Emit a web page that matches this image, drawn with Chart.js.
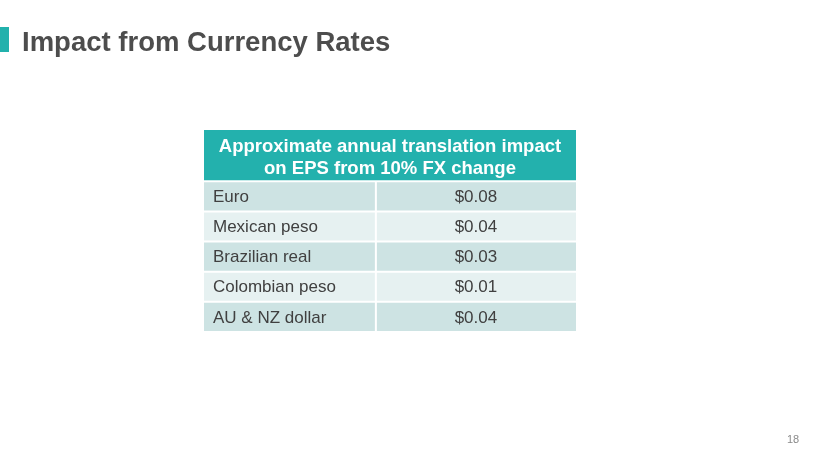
<!DOCTYPE html>
<html>
<head>
<meta charset="utf-8">
<script src="https://cdn.jsdelivr.net/npm/chart.js@4.4.1/dist/chart.umd.min.js"></script>
<style>
  body { margin: 0; background: #fff; font-family: "Liberation Sans", Arial, sans-serif; }
  #wrap { position: relative; width: 830px; height: 467px; overflow: hidden; }
  #wrap canvas { position: absolute; left: 0; top: 0; }
  .accent { position: absolute; left: 0; top: 27px; width: 9px; height: 25px; background: #22b1ac; }
  h1 { position: absolute; left: 22px; top: 27.5px; margin: 0; font-size: 27.5px; line-height: 28px;
       font-weight: bold; color: #4d4d4d; white-space: nowrap; }
  .page { position: absolute; left: 787px; top: 433.5px; font-size: 11px; line-height: 11px; color: #8a8a8a; }
</style>
</head>
<body>
<div id="wrap">
  <canvas id="fxTable" width="830" height="467"></canvas>
  <div class="accent"></div>
  <h1>Impact from Currency Rates</h1>
  <div class="page">18</div>
</div>
<script>
// table content
const headerLines = ['Approximate annual translation impact', 'on EPS from 10% FX change'];
const currencies = ['Euro', 'Mexican peso', 'Brazilian real', 'Colombian peso', 'AU & NZ dollar'];
const epsImpact = [0.08, 0.04, 0.03, 0.01, 0.04];

// layout in scale units: header is 1.7 rows tall, first column ends at 0.462 of width
const HEADER_ROWS = 1.7;
const COL_SPLIT = 0.462;

const tablePlugin = {
  id: 'fxTable',
  afterDraw(chart) {
    const ctx = chart.ctx;
    const xs = chart.scales.x, ys = chart.scales.y;
    const left = xs.getPixelForValue(0), right = xs.getPixelForValue(1);
    const mid = xs.getPixelForValue(COL_SPLIT);

    ctx.save();
    // header
    const hTop = ys.getPixelForValue(0), hBot = ys.getPixelForValue(HEADER_ROWS);
    ctx.fillStyle = '#23b1ad';
    ctx.fillRect(left, hTop, right - left, hBot - hTop);
    ctx.fillStyle = '#ffffff';
    ctx.font = 'bold 18.5px "Liberation Sans", Arial, sans-serif';
    ctx.textAlign = 'center';
    ctx.textBaseline = 'alphabetic';
    const hc = (hTop + hBot) / 2;
    ctx.fillText(headerLines[0], (left + right) / 2, hc - 3.5);
    ctx.fillText(headerLines[1], (left + right) / 2, hc + 18.5);

    // body rows
    ctx.font = '17px "Liberation Sans", Arial, sans-serif';
    currencies.forEach((name, i) => {
      const top = ys.getPixelForValue(HEADER_ROWS + i);
      const bot = ys.getPixelForValue(HEADER_ROWS + i + 1);
      ctx.fillStyle = i % 2 === 0 ? '#cde3e3' : '#e6f1f1';
      ctx.fillRect(left, top, right - left, bot - top);
      const cy = (top + bot) / 2;
      ctx.fillStyle = '#404040';
      ctx.textAlign = 'left';
      ctx.textBaseline = 'middle';
      ctx.fillText(name, left + 9, cy + 1);
      ctx.textAlign = 'center';
      ctx.fillText('$' + epsImpact[i].toFixed(2), (mid + right) / 2, cy + 1);
    });

    // white grid lines
    ctx.strokeStyle = '#ffffff';
    ctx.lineWidth = 2;
    ctx.beginPath();
    for (let r = 0; r <= currencies.length; r++) {
      const yy = ys.getPixelForValue(HEADER_ROWS + r);
      ctx.moveTo(left, yy);
      ctx.lineTo(right, yy);
    }
    ctx.moveTo(mid, ys.getPixelForValue(HEADER_ROWS));
    ctx.lineTo(mid, ys.getPixelForValue(HEADER_ROWS + currencies.length));
    ctx.stroke();
    ctx.restore();
  }
};

new Chart(document.getElementById('fxTable'), {
  type: 'scatter',
  data: { datasets: [] },
  options: {
    responsive: false,
    animation: false,
    layout: { padding: { left: 204, right: 254, top: 130, bottom: 135 } },
    plugins: { legend: { display: false }, tooltip: { enabled: false } },
    scales: {
      x: { type: 'linear', min: 0, max: 1, display: false },
      y: { type: 'linear', min: 0, max: HEADER_ROWS + currencies.length, reverse: true, display: false }
    }
  },
  plugins: [tablePlugin]
});
</script>
</body>
</html>
